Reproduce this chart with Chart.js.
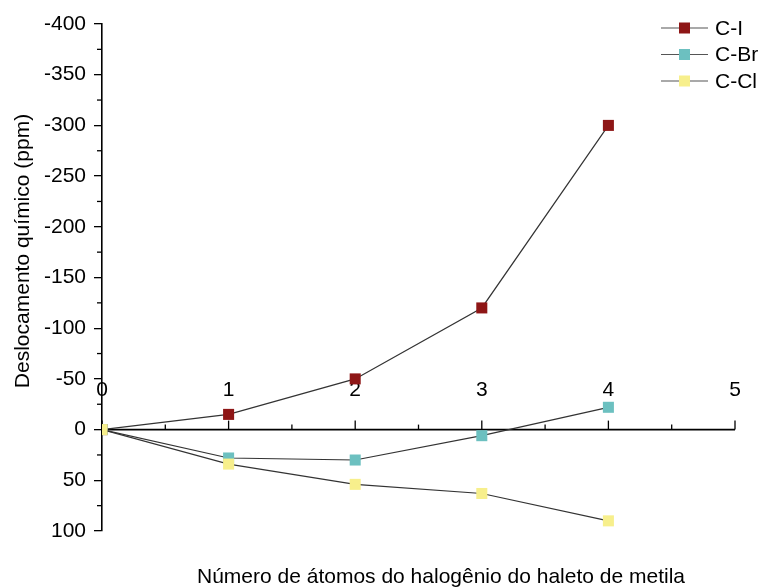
<!DOCTYPE html>
<html>
<head>
<meta charset="utf-8">
<script src="https://cdn.jsdelivr.net/npm/chart.js@4.4.1/dist/chart.umd.min.js"></script>
<style>
  html, body { margin: 0; padding: 0; background: #fff; }
  #wrap { width: 761px; height: 588px; }
</style>
</head>
<body>
<div id="wrap"><canvas id="chart" width="761" height="588"></canvas></div>
<script>
// Data
const halogenCounts = [0, 1, 2, 3, 4];
const shiftCI = [0, -15, -50, -120, -300];
const shiftCBr = [0, 28, 30, 6, -22];
const shiftCCl = [0, 34, 54, 63, 90];
const xTickLabels = ["0", "1", "2", "3", "4", "5"];
const seriesNames = ["C-I", "C-Br", "C-Cl"];

const FONT = "'Liberation Sans', Arial, sans-serif";
const FSIZE = 21;
const colors = { ci: "#8e1616", cbr: "#6cc0c0", ccl: "#f7ef8c" };

function toPoints(ys) {
  return halogenCounts.map((x, i) => ({ x: x, y: ys[i] }));
}

// Axis decorations: x axis on y=0, minor ticks, titles and legend
const decorPlugin = {
  id: "decor",
  beforeDatasetsDraw(chart) {
    const ctx = chart.ctx;
    const xs = chart.scales.x;
    const ys = chart.scales.y;
    const y0 = ys.getPixelForValue(0);
    ctx.save();
    ctx.strokeStyle = "#000";
    ctx.lineWidth = 1.6;
    ctx.beginPath();
    ctx.moveTo(xs.getPixelForValue(0), y0);
    ctx.lineTo(xs.getPixelForValue(5), y0);
    ctx.stroke();
    // x ticks pointing up
    ctx.lineWidth = 1.3;
    for (let v = 0; v <= 5.001; v += 0.5) {
      const px = xs.getPixelForValue(v);
      const len = Math.abs(v - Math.round(v)) < 0.01 ? 9 : 5;
      ctx.beginPath();
      ctx.moveTo(px, y0);
      ctx.lineTo(px, y0 - len);
      ctx.stroke();
    }
    ctx.fillStyle = "#000";
    ctx.font = FSIZE + "px " + FONT;
    ctx.textAlign = "center";
    ctx.textBaseline = "middle";
    xTickLabels.forEach((t, i) => {
      ctx.fillText(t, xs.getPixelForValue(i), y0 - 39);
    });
    // y minor ticks
    const left = chart.chartArea.left;
    for (let v = -375; v < 100; v += 50) {
      const py = ys.getPixelForValue(v);
      ctx.beginPath();
      ctx.moveTo(left, py);
      ctx.lineTo(left - 5, py);
      ctx.stroke();
    }
    ctx.restore();
  },
  afterDraw(chart) {
    const ctx = chart.ctx;
    ctx.save();
    ctx.fillStyle = "#000";
    ctx.font = FSIZE + "px " + FONT;
    ctx.textAlign = "center";
    ctx.textBaseline = "middle";
    ctx.fillText("Número de átomos do halogênio do haleto de metila", 441, 577);
    ctx.translate(23, 251);
    ctx.rotate(-Math.PI / 2);
    ctx.fillText("Deslocamento químico (ppm)", 0, 0);
    ctx.restore();

    // legend
    const legendColors = [colors.ci, colors.cbr, colors.ccl];
    ctx.save();
    ctx.font = FSIZE + "px " + FONT;
    ctx.textAlign = "left";
    ctx.textBaseline = "middle";
    seriesNames.forEach((name, i) => {
      const cy = 28 + i * 26.5;
      ctx.strokeStyle = "#555";
      ctx.lineWidth = 1.2;
      ctx.beginPath();
      ctx.moveTo(661, cy);
      ctx.lineTo(708, cy);
      ctx.stroke();
      ctx.fillStyle = legendColors[i];
      ctx.fillRect(679, cy - 5.5, 11, 11);
      ctx.fillStyle = "#000";
      ctx.fillText(name, 715, cy + 1);
    });
    ctx.restore();
  }
};

const lineStyle = {
  borderColor: "#333",
  borderWidth: 1.2,
  pointStyle: "rect",
  pointRadius: 7.8,
  pointHoverRadius: 7.8,
  pointBorderWidth: 0,
  tension: 0,
  fill: false
};

new Chart(document.getElementById("chart"), {
  type: "line",
  data: {
    datasets: [
      Object.assign({ label: seriesNames[2], data: toPoints(shiftCCl), pointBackgroundColor: colors.ccl }, lineStyle),
      Object.assign({ label: seriesNames[1], data: toPoints(shiftCBr), pointBackgroundColor: colors.cbr }, lineStyle),
      Object.assign({ label: seriesNames[0], data: toPoints(shiftCI), pointBackgroundColor: colors.ci }, lineStyle)
    ]
  },
  options: {
    responsive: false,
    animation: false,
    layout: { padding: { top: 24, right: 26, bottom: 57, left: 0 } },
    plugins: { legend: { display: false }, tooltip: { enabled: false } },
    scales: {
      x: { type: "linear", min: 0, max: 5, display: false },
      y: {
        type: "linear",
        reverse: true,
        min: -400,
        max: 100,
        afterFit(scale) { scale.width = 102; },
        ticks: { stepSize: 50, color: "#000", padding: 8, font: { family: FONT, size: FSIZE } },
        grid: { drawOnChartArea: false, drawTicks: true, tickLength: 8, color: "#000", lineWidth: 1.3 },
        border: { display: true, color: "#000", width: 1.6 }
      }
    }
  },
  plugins: [decorPlugin]
});
</script>
</body>
</html>
